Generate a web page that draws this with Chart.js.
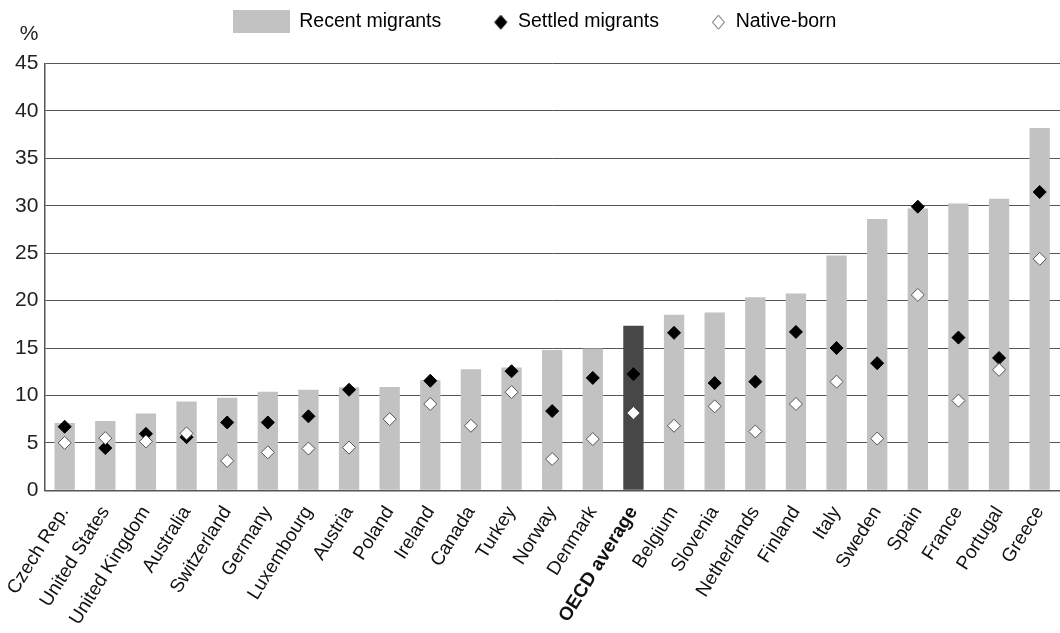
<!DOCTYPE html>
<html>
<head>
<meta charset="utf-8">
<script src="https://cdn.jsdelivr.net/npm/chart.js@4.4.1/dist/chart.umd.min.js"></script>
<style>
  html, body { margin: 0; padding: 0; background: #fff; }
  #wrap { width: 1060px; height: 633px; }
</style>
</head>
<body>
<div id="wrap"><canvas id="migChart"></canvas></div>
<script>
// categories and series (% values)
const countries = ['Czech Rep.', 'United States', 'United Kingdom', 'Australia', 'Switzerland', 'Germany',
  'Luxembourg', 'Austria', 'Poland', 'Ireland', 'Canada', 'Turkey', 'Norway', 'Denmark', 'OECD average',
  'Belgium', 'Slovenia', 'Netherlands', 'Finland', 'Italy', 'Sweden', 'Spain', 'France', 'Portugal', 'Greece'];
const recentMigrants = [7.1, 7.3, 8.1, 9.35, 9.75, 10.4, 10.6, 10.85, 10.9, 11.6, 12.75, 12.95, 14.8, 14.95, 17.35,
  18.5, 18.75, 20.35, 20.75, 24.75, 28.6, 29.7, 30.25, 30.75, 38.2];
const settledMigrants = [6.7, 4.45, 5.95, 5.6, 7.15, 7.15, 7.8, 10.6, null, 11.55, null, 12.55, 8.35, 11.85, 12.25,
  16.6, 11.3, 11.45, 16.7, 15.0, 13.4, 29.9, 16.1, 13.95, 31.45];
const nativeBorn = [5.0, 5.5, 5.15, 6.0, 3.1, 4.0, 4.4, 4.5, 7.5, 9.1, 6.8, 10.35, 3.3, 5.4, 8.15,
  6.8, 8.85, 6.2, 9.1, 11.45, 5.45, 20.6, 9.45, 12.7, 24.4];
const yTicks = [0, 5, 10, 15, 20, 25, 30, 35, 40, 45];

const font = "'Liberation Sans', Arial, sans-serif";

const barColors = countries.map(c => c === 'OECD average' ? '#474747' : '#c2c2c2');

// legend swatches as small canvases so the bar box and the diamonds can sit side by side
function swatch(kind) {
  const c = document.createElement('canvas');
  c.width = 57; c.height = 23;
  const g = c.getContext('2d');
  if (kind === 'bar') {
    g.fillStyle = '#c2c2c2';
    g.fillRect(0, 0, 57, 23);
  } else {
    const cx = 49.5, cy = 12, r = 7;
    g.beginPath();
    g.moveTo(cx, cy - r); g.lineTo(cx + r - 1, cy); g.lineTo(cx, cy + r); g.lineTo(cx - r + 1, cy);
    g.closePath();
    g.fillStyle = kind === 'settled' ? '#000' : '#fff';
    g.fill();
    g.strokeStyle = kind === 'settled' ? '#000' : '#555';
    g.lineWidth = 1;
    g.stroke();
  }
  return c;
}
const legendIcons = [swatch('bar'), swatch('settled'), swatch('native')];

// a bit more room under the legend
const legendGap = {
  id: 'legendGap',
  beforeInit(chart) {
    const fit = chart.legend.fit;
    chart.legend.fit = function () {
      fit.bind(chart.legend)();
      this.height += 22;
    };
  }
};

// "%" unit label above the y axis
const unitLabel = {
  id: 'unitLabel',
  afterDraw(chart) {
    const { ctx, chartArea } = chart;
    ctx.save();
    ctx.font = '21px ' + font;
    ctx.fillStyle = '#222';
    ctx.textAlign = 'right';
    ctx.textBaseline = 'bottom';
    ctx.fillText('%', chartArea.left - 6, chartArea.top - 19);
    ctx.restore();
  }
};

const ctx = document.getElementById('migChart').getContext('2d');
const chart = new Chart(ctx, {
  type: 'bar',
  data: {
    labels: countries,
    datasets: [
      {
        type: 'line',
        label: 'Settled migrants',
        data: settledMigrants,
        showLine: false,
        pointStyle: 'rectRot',
        pointRadius: 6.5,
        pointBackgroundColor: '#000',
        pointBorderColor: '#000',
        pointBorderWidth: 1,
        order: 1
      },
      {
        type: 'line',
        label: 'Native-born',
        data: nativeBorn,
        showLine: false,
        pointStyle: 'rectRot',
        pointRadius: 6.5,
        pointBackgroundColor: '#fff',
        pointBorderColor: '#555',
        pointBorderWidth: 1,
        order: 0
      },
      {
        label: 'Recent migrants',
        data: recentMigrants,
        backgroundColor: barColors,
        barPercentage: 0.5,
        categoryPercentage: 1,
        order: 2
      }
    ]
  },
  options: {
    responsive: true,
    maintainAspectRatio: false,
    animation: false,
    layout: { autoPadding: false, padding: { left: 9, right: 0, top: 2, bottom: 0 } },
    plugins: {
      tooltip: { enabled: false },
      legend: {
        position: 'top',
        labels: {
          usePointStyle: true,
          pointStyleWidth: 57,
          boxHeight: 23,
          padding: 10,
          color: '#111',
          font: { family: font, size: 19.5 },
          generateLabels: () => [
            { text: 'Recent migrants', pointStyle: legendIcons[0], datasetIndex: 2, lineWidth: 0 },
            { text: 'Settled migrants', pointStyle: legendIcons[1], datasetIndex: 0, lineWidth: 0 },
            { text: 'Native-born', pointStyle: legendIcons[2], datasetIndex: 1, lineWidth: 0 }
          ]
        }
      }
    },
    scales: {
      x: {
        grid: { display: false },
        border: { color: '#555', width: 1.5 },
        // let the slanted labels hang past the plot edges, as in the original
        afterFit: (scale) => { scale.paddingLeft = 0; scale.paddingRight = 0; },
        ticks: {
          autoSkip: false,
          minRotation: 58,
          maxRotation: 58,
          padding: 4,
          color: '#111',
          font: (c) => ({
            family: font,
            size: 19,
            weight: c.tick && c.tick.label === 'OECD average' ? 'bold' : 'normal'
          })
        }
      },
      y: {
        min: 0,
        max: 45,
        afterBuildTicks: (axis) => { axis.ticks = yTicks.map(v => ({ value: v })); },
        grid: { color: '#555', lineWidth: 1, drawTicks: false },
        border: { color: '#555', width: 1.5 },
        ticks: {
          padding: 6,
          color: '#222',
          font: { family: font, size: 21 }
        }
      }
    }
  },
  plugins: [unitLabel, legendGap]
});
</script>
</body>
</html>
